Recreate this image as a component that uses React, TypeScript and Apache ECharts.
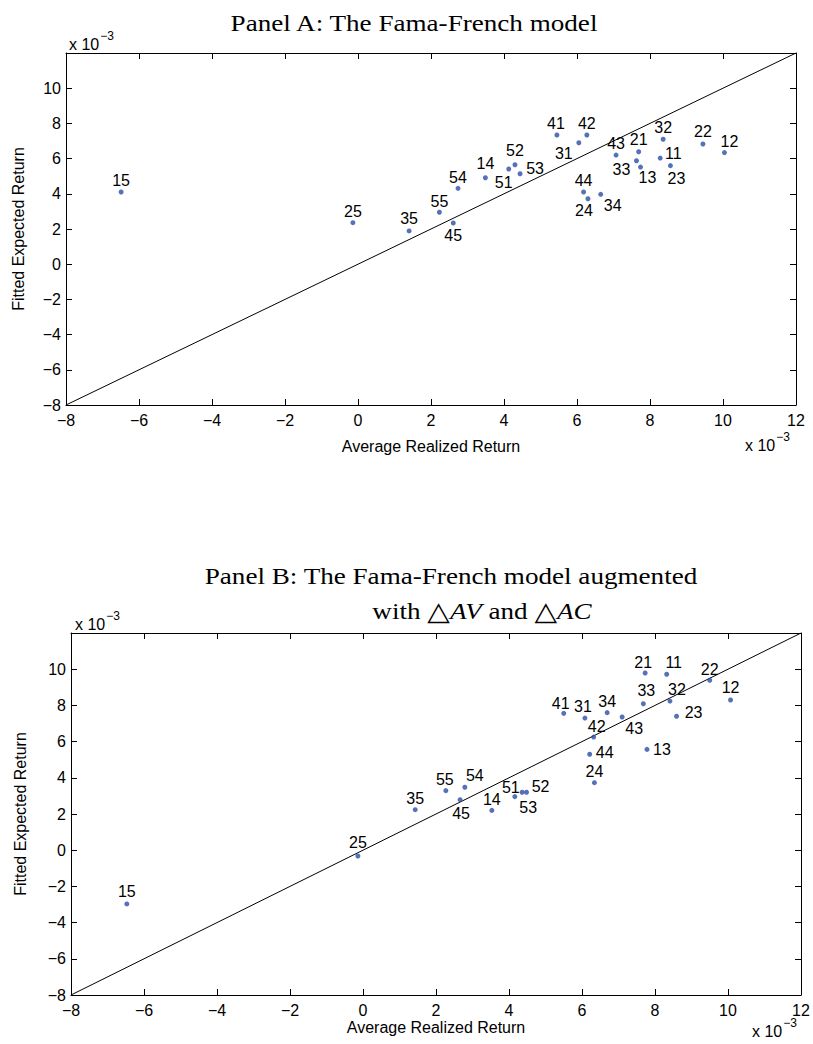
import React, { useEffect, useRef } from 'react';
import * as echarts from 'echarts';

// Portfolio identifiers (size quintile, book-to-market quintile)
const portfolios = ['15', '25', '35', '45', '55', '54', '14', '51', '52', '53', '41', '31', '42', '44', '24', '34', '43', '33', '21', '13', '11', '32', '23', '22', '12'];

// Panel A: Fama-French model (values in units of 1e-3)
const realizedA = [-6.49, -0.14, 1.40, 2.61, 2.23, 2.74, 3.49, 4.13, 4.30, 4.44, 5.45, 6.05, 6.27, 6.18, 6.30, 6.65, 7.07, 7.63, 7.69, 7.74, 8.28, 8.36, 8.56, 9.45, 10.04];
const fittedA = [4.10, 2.36, 1.89, 2.34, 2.95, 4.31, 4.91, 5.41, 5.65, 5.14, 7.34, 6.90, 7.34, 4.10, 3.72, 3.97, 6.20, 5.88, 6.39, 5.52, 6.03, 7.10, 5.60, 6.83, 6.34];

// Panel B: Fama-French model augmented with dAV and dAC (values in units of 1e-3)
const realizedB = [-6.47, -0.14, 1.43, 2.66, 2.27, 2.79, 3.53, 4.16, 4.48, 4.36, 5.50, 6.08, 6.32, 6.21, 6.34, 6.69, 7.10, 7.68, 7.73, 7.78, 8.32, 8.41, 8.59, 9.50, 10.07];
const fittedB = [-2.97, -0.32, 2.24, 2.79, 3.29, 3.48, 2.20, 2.96, 3.20, 3.20, 7.56, 7.30, 6.25, 5.30, 3.73, 7.60, 7.36, 8.09, 9.79, 5.57, 9.72, 8.24, 7.40, 9.39, 8.30];

const axisMin = -8;
const axisMax = 12;
const tickStep = 2;

// label offsets (style only): [dx, dy] from the dot to the label centre
const labelOffsetA: Record<string, number[]> = {
  '15': [0, -12], '25': [0, -11], '35': [0, -12], '45': [0, 12], '55': [0, -11], '54': [0, -11],
  '14': [0, -14], '51': [-5, 14], '52': [0, -14], '53': [15, -5], '41': [-1, -12], '31': [-15, 11],
  '42': [0, -12], '44': [0, -12], '24': [-4, 12], '34': [12, 11], '43': [0, -12], '33': [-15, 9],
  '21': [0, -12], '13': [7, 10], '11': [13, -5], '32': [0, -12], '23': [6, 13], '22': [0, -12], '12': [5, -11],
};
const labelOffsetB: Record<string, number[]> = {
  '15': [0, -12], '25': [0, -13], '35': [0, -11], '45': [1, 14], '55': [-1, -11], '54': [10, -12],
  '14': [0, -11], '51': [-4, -9], '52': [14, -6], '53': [6, 15], '41': [-3, -10], '31': [-2, -12],
  '42': [3, -11], '44': [15, -2], '24': [0, -11], '34': [0, -11], '43': [12, 12], '33': [3, -13],
  '21': [-2, -11], '13': [15, 0], '11': [7, -12], '32': [7, -12], '23': [17, -4], '22': [0, -11], '12': [0, -12],
};

const sansFont = 'Liberation Sans, Arial, Helvetica, sans-serif';
const serifFont = 'Liberation Serif, serif';
const dotColor = '#2b4da6';

const fmtTick = (v: number) => (v < 0 ? '\u2212' + Math.abs(v) : String(v));

function buildPoints(xs: number[], ys: number[], offsets: Record<string, number[]>) {
  return portfolios.map((p, i) => ({
    value: [xs[i], ys[i]],
    name: p,
    label: { offset: offsets[p] },
  }));
}

function makeAxes(gridIndex: number, kind: 'x' | 'y') {
  const base = {
    gridIndex,
    type: 'value',
    min: axisMin,
    max: axisMax,
    interval: tickStep,
    splitLine: { show: false },
    axisLine: { show: true, onZero: false, lineStyle: { color: '#000', width: 1 } },
    axisTick: { show: true, inside: true, length: 6, lineStyle: { color: '#000', width: 1 } },
  };
  const main = {
    ...base,
    position: kind === 'x' ? 'bottom' : 'left',
    axisLabel: {
      show: true,
      color: '#000',
      fontFamily: sansFont,
      fontSize: 16,
      margin: kind === 'x' ? 7 : 5,
      showMinLabel: true,
      showMaxLabel: true,
      hideOverlap: false,
      formatter: (v: number) => (kind === 'y' && v === axisMax ? '' : fmtTick(v)),
    },
    name: kind === 'x' ? 'Average Realized Return' : 'Fitted Expected Return',
    nameLocation: 'middle',
    nameGap: kind === 'x' ? (gridIndex === 0 ? 33 : 24) : (gridIndex === 0 ? 40 : 43),
    nameTextStyle: { color: '#000', fontFamily: sansFont, fontSize: 16 },
  };
  const mirror = {
    ...base,
    position: kind === 'x' ? 'top' : 'right',
    axisLabel: { show: false },
  };
  return [main, mirror];
}

export default function App() {
  const ref = useRef<HTMLDivElement>(null);
  useEffect(() => {
    if (!ref.current) return;
    const chart = echarts.init(ref.current, null, { renderer: 'svg' });
    const xAxes = [...makeAxes(0, 'x'), ...makeAxes(1, 'x')];
    const yAxes = [...makeAxes(0, 'y'), ...makeAxes(1, 'y')];
    const scatterSeries = (xi: number, yi: number, data: any[]) => ({
      type: 'scatter',
      xAxisIndex: xi,
      yAxisIndex: yi,
      data,
      symbol: 'circle',
      symbolSize: 5,
      itemStyle: { color: dotColor },
      label: {
        show: true,
        position: 'inside',
        formatter: (p: any) => p.name,
        color: '#000',
        opacity: 1,
        textBorderWidth: 0,
        fontFamily: sansFont,
        fontSize: 16,
      },
      z: 3,
    });
    const diagSeries = (xi: number, yi: number) => ({
      type: 'line',
      xAxisIndex: xi,
      yAxisIndex: yi,
      data: [[axisMin, axisMin], [axisMax, axisMax]],
      showSymbol: false,
      symbol: 'none',
      lineStyle: { color: '#000', width: 1 },
      silent: true,
      z: 2,
    });
    const expText = (x: number, y: number) => ({
      type: 'text',
      x,
      y,
      style: {
        text: '{b|x 10}{s|\u22123}',
        rich: {
          b: { fontFamily: sansFont, fontSize: 16, fill: '#000', verticalAlign: 'bottom', lineHeight: 22 },
          s: { fontFamily: sansFont, fontSize: 12, fill: '#000', verticalAlign: 'top', lineHeight: 22, padding: [0, 0, 10, 1] },
        },
      },
    });
    const titleText = (x: number, y: number, text: string, rich?: any) => ({
      type: 'text',
      x,
      y,
      scaleX: 1.13,
      style: {
        text,
        rich,
        align: 'center',
        verticalAlign: 'middle',
        fontFamily: serifFont,
        fontSize: 24,
        fill: '#000',
      },
    });
    chart.setOption({
      animation: false,
      backgroundColor: '#fff',
      grid: [
        { left: 66, right: 17, top: 53, height: 352, outerBoundsMode: 'none', containLabel: false },
        { left: 71, right: 12, top: 633, height: 362, outerBoundsMode: 'none', containLabel: false },
      ],
      xAxis: xAxes,
      yAxis: yAxes,
      series: [
        diagSeries(0, 0),
        scatterSeries(0, 0, buildPoints(realizedA, fittedA, labelOffsetA)),
        diagSeries(2, 2),
        scatterSeries(2, 2, buildPoints(realizedB, fittedB, labelOffsetB)),
      ],
      graphic: [
        titleText(414, 23, 'Panel A: The Fama-French model'),
        titleText(451, 576, 'Panel B: The Fama-French model augmented'),
        titleText(482, 611, '{r|with }{t|\u25B3}{i|AV}{r| and }{t|\u25B3}{i|AC}', {
          r: { fontFamily: serifFont, fontSize: 24, fill: '#000' },
          i: { fontFamily: serifFont, fontSize: 24, fontStyle: 'italic', fill: '#000' },
          t: { fontFamily: 'DejaVu Sans, sans-serif', fontSize: 26, fill: '#000' },
        }),
        expText(69, 30),
        expText(745, 431),
        expText(75, 610),
        expText(752, 1017),
      ],
    });
    return () => chart.dispose();
  }, []);
  return <div ref={ref} style={{ position: 'absolute', left: 0, top: 0, width: 813, height: 1044 }} />;
}
